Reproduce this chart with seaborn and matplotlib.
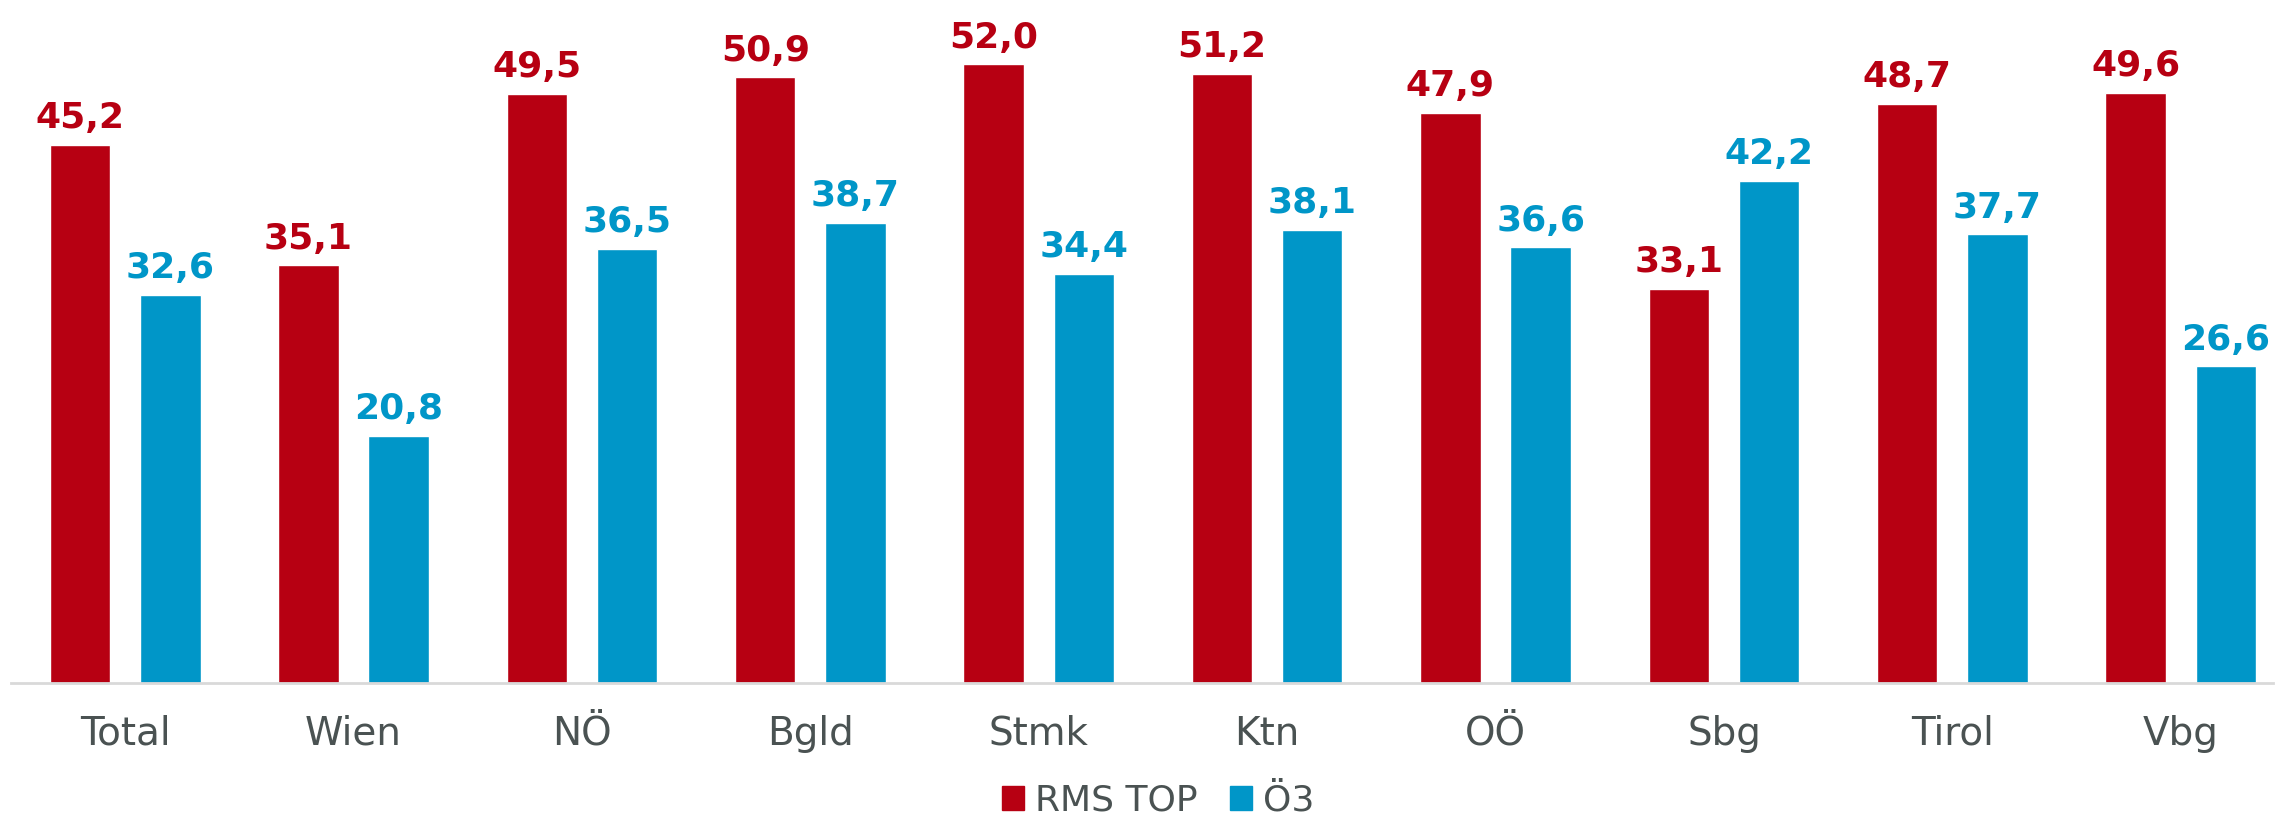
import pandas as pd
import matplotlib.pyplot as plt
import seaborn as sns
from matplotlib.patches import Patch

# %% Daten
regionen = ["Total", "Wien", "NÖ", "Bgld", "Stmk", "Ktn", "OÖ", "Sbg", "Tirol", "Vbg"]
rms_top = [45.2, 35.1, 49.5, 50.9, 52.0, 51.2, 47.9, 33.1, 48.7, 49.6]
oe3 = [32.6, 20.8, 36.5, 38.7, 34.4, 38.1, 36.6, 42.2, 37.7, 26.6]
serien = ["RMS TOP", "Ö3"]

ROT = "#B70012"
BLAU = "#0096C8"
GRAU = "#4A5252"

df = pd.DataFrame({
    "Region": regionen * 2,
    "Wert": rms_top + oe3,
    "Sender": [serien[0]] * len(regionen) + [serien[1]] * len(regionen),
})

# %% Plot
sns.set_style("white")
plt.rcParams["font.family"] = ["DejaVu Sans"]

fig = plt.figure(figsize=(22.77, 8.15), dpi=100)
ax = fig.add_axes([11 / 2277, 132 / 815, 2262 / 2277, 683 / 815])

sns.barplot(data=df, x="Region", y="Wert", hue="Sender", order=regionen,
            hue_order=serien, palette=[ROT, BLAU], width=0.79, gap=0.33,
            saturation=1, legend=False, ax=ax)

# Werte ueber den Balken
for cont, farbe in zip(ax.containers, [ROT, BLAU]):
    labels = [f"{b.get_height():.1f}".replace(".", ",") for b in cont]
    ax.bar_label(cont, labels=labels, padding=7, color=farbe,
                 fontsize=26, fontweight="bold")

ax.set_xlim(-0.5, 9.404)
ax.set_ylim(0, 57.4)
ax.set_xlabel("")
ax.set_ylabel("")
ax.set_yticks([])
sns.despine(ax=ax, left=True)
ax.spines["bottom"].set_color("#D9D9D9")
ax.spines["bottom"].set_linewidth(2)
ax.tick_params(axis="x", length=0, pad=23, labelsize=28, labelcolor=GRAU)

handles = [Patch(color=ROT, label=serien[0]), Patch(color=BLAU, label=serien[1])]
fig.legend(handles=handles, loc="lower center", bbox_to_anchor=(0.5086, -0.043),
           ncol=2, frameon=False, fontsize=26, labelcolor=GRAU,
           handlelength=0.62, handleheight=0.62, handletextpad=0.3,
           columnspacing=0.9)

fig.savefig("out.png", dpi=100)
